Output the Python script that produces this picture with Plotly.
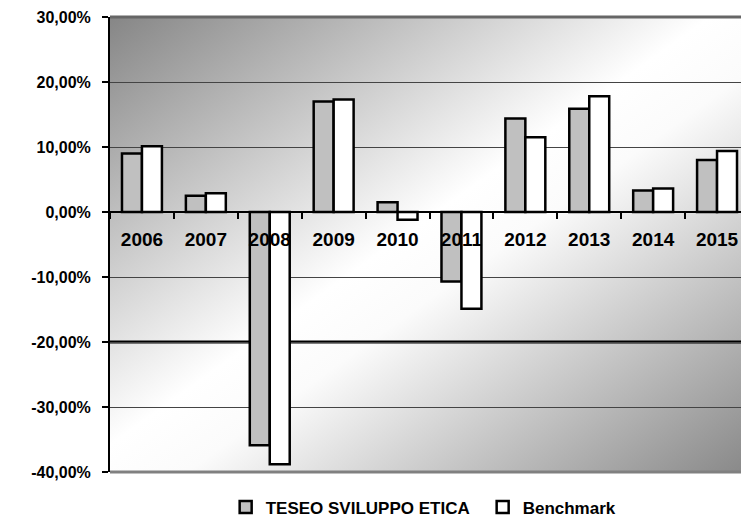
import base64
import plotly.graph_objects as go

# ---- data ----
categories = ["2006", "2007", "2008", "2009", "2010", "2011", "2012", "2013", "2014", "2015"]
teseo = [9.0, 2.5, -35.9, 17.0, 1.5, -10.7, 14.4, 15.9, 3.3, 8.0]
benchmark = [10.1, 2.9, -38.8, 17.3, -1.2, -14.9, 11.5, 17.8, 3.6, 9.4]
series_names = ["TESEO SVILUPPO ETICA", "Benchmark"]
y_ticks = [30, 20, 10, 0, -10, -20, -30, -40]
y_ticktext = [f"{v:.2f}".replace(".", ",") + "%" for v in y_ticks]
y_range = [-40, 30]
emphasis_level = -20

FONT = "Liberation Sans, Arial, sans-serif"

# gradient background (diagonal: dark -> white -> dark)
svg = (
    '<svg xmlns="http://www.w3.org/2000/svg" width="100" height="100" viewBox="0 0 100 100" preserveAspectRatio="none">'
    '<defs><linearGradient id="g" x1="0" y1="0" x2="1" y2="1">'
    '<stop offset="0" stop-color="#868686"/>'
    '<stop offset="0.47" stop-color="#ffffff"/>'
    '<stop offset="0.56" stop-color="#fbfbfb"/>'
    '<stop offset="1" stop-color="#888888"/>'
    '</linearGradient></defs>'
    '<rect x="0" y="0" width="100" height="100" fill="url(#g)"/></svg>'
)
bg_src = "data:image/svg+xml;base64," + base64.b64encode(svg.encode()).decode()

fig = go.Figure()
fig.add_trace(go.Bar(x=categories, y=teseo, name=series_names[0],
                     marker=dict(color="#c0c0c0", line=dict(color="black", width=2.5))))
fig.add_trace(go.Bar(x=categories, y=benchmark, name=series_names[1],
                     marker=dict(color="#ffffff", line=dict(color="black", width=2.5))))

zero_pos = (0 - y_range[0]) / (y_range[1] - y_range[0])

# page body has an 8px default margin; figure size/margins compensate for it
fig.update_layout(
    width=741, height=509,
    margin=dict(l=102, r=0, t=9, b=45, autoexpand=False),
    paper_bgcolor="white",
    plot_bgcolor="white",
    barmode="group",
    bargap=0.375,
    bargroupgap=0,
    font=dict(family=FONT, color="black"),
    images=[dict(source=bg_src, xref="paper", yref="paper", x=0, y=1,
                 sizex=1, sizey=1, sizing="stretch", layer="below")],
    xaxis=dict(
        anchor="free", position=zero_pos,
        showline=True, linecolor="black", linewidth=2,
        ticks="outside", tickson="boundaries", ticklen=6, tickcolor="black", tickwidth=2,
        tickfont=dict(size=19, weight="bold", family=FONT),
        ticklabelstandoff=10,
        showgrid=False, fixedrange=True, automargin=False,
    ),
    yaxis=dict(
        range=y_range, tickvals=y_ticks, ticktext=y_ticktext,
        showline=True, linecolor="black", linewidth=2,
        ticks="outside", ticklen=6, tickcolor="black", tickwidth=2,
        ticklabelstandoff=8, ticklabeloverflow="allow",
        showgrid=True, gridcolor="#444444", gridwidth=1,
        zeroline=True, zerolinecolor="black", zerolinewidth=2,
        tickfont=dict(size=16, weight="bold", family=FONT),
        automargin=False,
    ),
    legend=dict(orientation="h", x=0.181, xanchor="left", y=-0.078, yanchor="middle",
                entrywidth=212, entrywidthmode="pixels",
                font=dict(size=17, weight="bold", family=FONT), bgcolor="rgba(0,0,0,0)"),
    shapes=[
        dict(type="line", xref="paper", yref="y", x0=0, x1=1, y0=emphasis_level, y1=emphasis_level,
             line=dict(color="black", width=3), layer="between"),
        dict(type="line", xref="paper", yref="paper", x0=0, x1=1, y0=1, y1=1,
             line=dict(color="#666666", width=3)),
        dict(type="line", xref="paper", yref="paper", x0=0, x1=1, y0=0, y1=0,
             line=dict(color="#808080", width=3)),
    ],
)

fig.write_html("out.html")
